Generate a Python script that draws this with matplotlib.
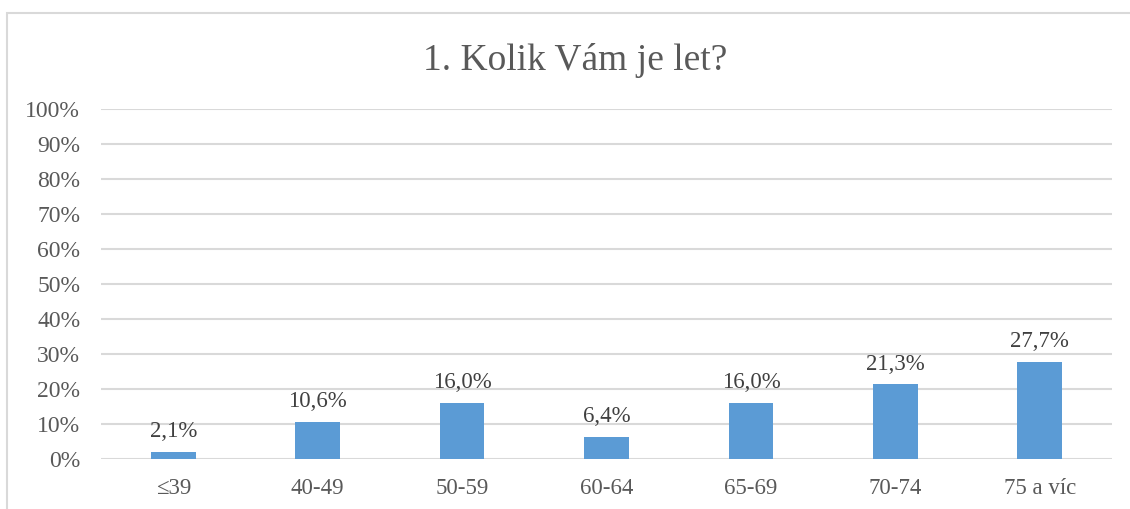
import matplotlib
matplotlib.use('Agg')
from matplotlib import pyplot as plt
from matplotlib.patches import Rectangle

categories = ['≤39', '40-49', '50-59', '60-64', '65-69', '70-74', '75 a víc']
values = [2.1, 10.6, 16.0, 6.4, 16.0, 21.3, 27.7]
yticks = list(range(0, 101, 10))
title = '1. Kolik Vám je let?'

plt.rcParams['font.family'] = ['Liberation Serif', 'DejaVu Serif']
text_color = '#595959'

fig = plt.figure(figsize=(11.3, 5.09), dpi=100)
ax = fig.add_axes([101 / 1130, 50 / 509, 1011 / 1130, 350 / 509])

# chart border (cut off at right and bottom like the screenshot)
fig.patches.append(Rectangle((7 / 1130, -0.1), 1.2, (509 - 13) / 509 + 0.1,
                             transform=fig.transFigure, fill=False,
                             edgecolor='#d9d9d9', linewidth=1.5))

x = range(len(categories))
ax.bar(x, values, width=0.31, color='#5b9bd5', zorder=3)
for xi, v in zip(x, values):
    ax.annotate(f'{v:.1f}%'.replace('.', ','), (xi, v), xytext=(0, 7),
                textcoords='offset points', ha='center', va='bottom',
                fontsize=16.5, color='#404040')

ax.set_xlim(-0.5, len(categories) - 0.5)
ax.set_ylim(0, 100)
ax.set_yticks(yticks)
ax.set_yticklabels([f'{t}%' for t in yticks])
ax.set_xticks(list(x))
ax.set_xticklabels(categories)
ax.tick_params(axis='y', length=0, pad=15, labelsize=17, labelcolor=text_color)
ax.tick_params(axis='x', length=0, pad=14, labelsize=16.5, labelcolor=text_color)
ax.grid(axis='y', color='#d9d9d9', linewidth=1.5, zorder=0)
for s in ax.spines.values():
    s.set_visible(False)

fig.text(575 / 1130, 1 - 60 / 509, title, ha='center', va='center',
         fontsize=27, color=text_color)

plt.savefig('out.png', dpi=100)
plt.close()
